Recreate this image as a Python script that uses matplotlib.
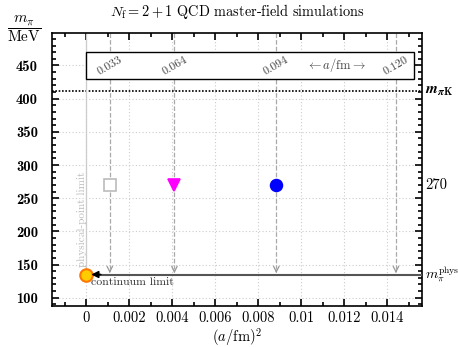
import numpy as np
import matplotlib
matplotlib.use('Agg')
import matplotlib.pyplot as plt
from matplotlib.patches import Rectangle
from matplotlib.ticker import MultipleLocator, FuncFormatter
import matplotlib.transforms as mtransforms

plt.rcParams['mathtext.fontset'] = 'cm'
plt.rcParams['font.family'] = 'serif'
plt.rcParams['font.serif'] = ['cmr10']
plt.rcParams['axes.formatter.use_mathtext'] = True

# lattice spacings (fm) of the ensembles and the simulated pion mass
a_fm = np.array([0.033, 0.064, 0.094, 0.120])
a_labels = ['0.033', '0.064', '0.094', '0.120']
sim_a = np.array([0.033, 0.064, 0.094])
sim_mpi = [270, 270, 270]
sim_markers = ['s', 'v', 'o']
sim_colors = ['#bbbbbb', 'magenta', 'blue']
sim_filled = [False, True, True]

m_piK = 412
m_pi_phys = 135
m_pi_sim = 270

fig = plt.figure(figsize=(4.58, 3.47), dpi=100)
ax = fig.add_axes([0.1135, 0.119, 0.8073, 0.786])

xmin, xmax = -0.0016, 0.0156
ymin, ymax = 88, 499
ax.set_xlim(xmin, xmax)
ax.set_ylim(ymin, ymax)

# grid
ax.grid(True, which='major', color='#cccccc', linestyle=(0, (1, 2)), linewidth=0.8)
ax.set_axisbelow(True)

# ticks
ax.xaxis.set_major_locator(MultipleLocator(0.002))
ax.xaxis.set_minor_locator(MultipleLocator(0.001))
ax.yaxis.set_major_locator(MultipleLocator(50))
ax.yaxis.set_minor_locator(MultipleLocator(10))
ax.tick_params(which='both', direction='in', top=True, right=True, width=1.2)
ax.tick_params(which='major', length=5)
ax.tick_params(which='minor', length=3)
ax.tick_params(axis='y', which='major', pad=10)
ax.tick_params(axis='x', which='major', pad=4)
ax.xaxis.set_major_formatter(FuncFormatter(lambda v, p: '0' if abs(v) < 1e-9 else ('%g' % round(v, 4))))
ax.yaxis.set_major_formatter(FuncFormatter(lambda v, p: '%d' % v))
for lab in ax.get_xticklabels():
    lab.set_fontsize(10.5)
for lab in ax.get_yticklabels():
    lab.set_fontsize(10.5)
    lab.set_fontfamily('cmb10')
for s in ax.spines.values():
    s.set_linewidth(1.2)

a2 = a_fm ** 2

# dashed lines from the top down to the physical pion mass
for x in a2:
    ax.plot([x, x], [ymax, m_pi_phys + 8], color='#aaaaaa', linestyle='--', linewidth=0.9, zorder=2)
    ax.annotate('', xy=(x, m_pi_phys + 2), xytext=(x, m_pi_phys + 10),
                arrowprops=dict(arrowstyle='->', color='#999999', lw=0.9), zorder=2)

# lattice-spacing box
box = Rectangle((0, 430), 0.01522, 40, facecolor='white', edgecolor='black', linewidth=1.0, zorder=3)
ax.add_patch(box)
for x, lab in zip(a2, a_labels):
    ax.text(x, 450, lab, rotation=30, ha='center', va='center', fontsize=8.5, color='#444444', zorder=4)
ax.text(0.0116, 450, r'$\leftarrow a/\mathrm{fm} \rightarrow$', ha='center', va='center',
        fontsize=9, color='#444444', zorder=4)

# m_piK line
ax.axhline(m_piK, color='black', linestyle=(0, (1, 1)), linewidth=1.2, zorder=2)

# physical-point limit
ax.plot([0, 0], [m_pi_phys, ymax], color='#cccccc', linewidth=0.9, zorder=2)
ax.text(-0.0002, 218, 'physical-point limit', rotation=90, ha='center', va='center',
        fontsize=8, color='#bbbbbb', zorder=2)

# continuum limit line
ax.plot([0.0004, xmax], [m_pi_phys, m_pi_phys], color='#555555', linewidth=1.5, zorder=3)
ax.annotate('', xy=(0.0001, m_pi_phys), xytext=(0.0008, m_pi_phys),
            arrowprops=dict(arrowstyle='-|>', color='black', lw=1.2, mutation_scale=10), zorder=5)
ax.text(0.0002, 124, 'continuum limit', ha='left', va='center', fontsize=8.5, color='#333333', zorder=4)

# physical point
ax.plot([0], [m_pi_phys], marker='o', markersize=9, markerfacecolor='#ffcc00',
        markeredgecolor='#ff7700', markeredgewidth=1.5, zorder=4, clip_on=False)

# simulations
for x, y, m, c, f in zip(sim_a ** 2, sim_mpi, sim_markers, sim_colors, sim_filled):
    ax.plot([x], [y], marker=m, markersize=8 if m != 'o' else 8.5,
            markerfacecolor=c if f else 'white', markeredgecolor=c,
            markeredgewidth=1.2, linestyle='None', zorder=5)

# right-hand labels
trans = mtransforms.blended_transform_factory(ax.transAxes, ax.transData)
ax.text(1.01, m_piK, r'$\mathbfit{m}_{\mathbfit{\pi}\mathbf{K}}$', transform=trans,
        ha='left', va='center', fontsize=11)
ax.text(1.01, m_pi_sim, '270', transform=trans, ha='left', va='center', fontsize=10.5)
ax.text(1.008, m_pi_phys, r'$m_\pi^{\mathrm{phys}}$', transform=trans, ha='left', va='center', fontsize=10)

ax.set_title(r'$N_\mathrm{f} = 2+1$ QCD master-field simulations', fontsize=10.3, pad=12)
ax.set_xlabel(r'$(a/\mathrm{fm})^2$', fontsize=10.5, labelpad=1)
fig.text(0.052, 0.915, r'$\dfrac{m_\pi}{\mathrm{MeV}}$', ha='center', va='center', fontsize=11)

fig.savefig('out.png', dpi=100)
